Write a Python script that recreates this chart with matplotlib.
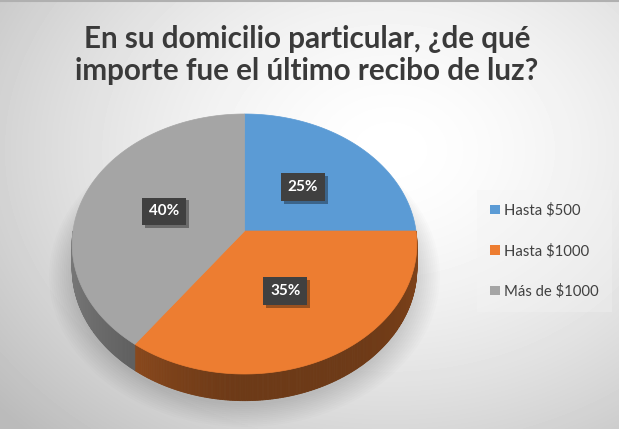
import numpy as np
import matplotlib.pyplot as plt
from matplotlib.patches import Polygon, Patch
import matplotlib.patheffects as pe
import matplotlib.colors as mcolors

labels = ['Hasta $500', 'Hasta $1000', 'Más de $1000']
shares = [25, 35, 40]
colors = ['#5B9BD5', '#ED7D31', '#A5A5A5']
title = 'En su domicilio particular, ¿de qué\nimporte fue el último recibo de luz?'

W, H = 619, 429
fig = plt.figure(figsize=(W / 100, H / 100), dpi=100)
ax = fig.add_axes([0, 0, 1, 1])
ax.set_xlim(0, W)
ax.set_ylim(H, 0)
ax.axis('off')

# soft radial background like the Excel chart area
yy, xx = np.mgrid[0:H, 0:W]
d = np.hypot((xx - 390) / 430, (yy - 150) / 330)
bg = 1 - 0.2 * np.clip(d, 0, 1.2) ** 1.6
ax.imshow(bg, cmap='gray', vmin=0, vmax=1, extent=(0, W, H, 0), zorder=0, aspect='auto')
ax.plot([0, W], [0.5, 0.5], color='#b0b0b0', lw=1.5, zorder=1)

# tilted pie with a little perspective
cx, cy, rx, ry, k, depth = 244.5, 231, 171.5, 128.7, 0.1, 24


def proj(r, th, dz=0.0):
    t = np.deg2rad(th)
    u = r * np.sin(t)
    v = -r * np.cos(t)
    f = 1 / (1 - k * v)
    return cx + rx * u * f, cy + ry * v * f + dz * f


# shadow under the pie
for i in range(12):
    s = 1.0 + 0.012 * i
    th = np.linspace(0, 360, 200)
    px, py = proj(s, th, depth + 4)
    ax.fill(px, py, color='k', alpha=0.012, lw=0, zorder=1)

total = sum(shares)
starts = np.cumsum([0] + shares[:-1]) / total * 360
ends = np.cumsum(shares) / total * 360

# sides first
for a0, a1, c in zip(starts, ends, colors):
    lo, hi = max(a0, 90), min(a1, 270)
    if hi <= lo:
        continue
    base = np.array(mcolors.to_rgb(c))
    th = np.linspace(lo, hi, int(hi - lo) * 2 + 2)
    for t0, t1 in zip(th[:-1], th[1:]):
        tm = np.deg2rad((t0 + t1) / 2)
        shade = 0.46 + 0.26 * max(0, -np.sin(tm)) ** 1.5 + 0.08 * max(0, np.sin(tm)) ** 6
        col = np.clip(base * shade, 0, 1)
        x0, y0 = proj(1, t0)
        x1, y1 = proj(1, t1)
        x2, y2 = proj(1, t1, depth)
        x3, y3 = proj(1, t0, depth)
        ax.add_patch(Polygon([[x0, y0], [x1, y1], [x2, y2], [x3, y3]],
                             closed=True, fc=col, ec=col, lw=0.6, zorder=2))

# top faces
for a0, a1, c in zip(starts, ends, colors):
    th = np.linspace(a0, a1, 200)
    px, py = proj(1, th)
    pts = np.column_stack([np.r_[cx, px], np.r_[cy, py]])
    ax.add_patch(Polygon(pts, closed=True, fc=c, ec=c, lw=0.5, zorder=3))

# percentage labels
for a0, a1, s in zip(starts, ends, shares):
    lx, ly = proj(0.5, (a0 + a1) / 2)
    t = ax.text(lx, ly, f'{s}%', ha='center', va='center', color='white',
                fontsize=11, fontweight='bold', family='Lato', zorder=5,
                bbox=dict(boxstyle='square,pad=0.45', fc='#404040', ec='none'))
    t.get_bbox_patch().set_path_effects([
        pe.withSimplePatchShadow(offset=(2, -2), shadow_rgbFace='k', alpha=0.35),
        pe.Normal()])

ax.text(307, 55, title, ha='center', va='center', fontsize=21.3, fontweight='bold',
        color='#3a3a3a', family='Lato', linespacing=1.18, zorder=5)

handles = [Patch(fc=c, ec='none', label=l) for c, l in zip(colors, labels)]
leg = ax.legend(handles=handles, loc='center left', bbox_to_anchor=(477 / W, 1 - 251 / H),
                labelspacing=1.75, handlelength=0.62, handleheight=0.62,
                handletextpad=0.33, borderpad=0.9, borderaxespad=0, frameon=True,
                fancybox=False, prop={'family': 'Lato', 'size': 10.7})
leg.get_frame().set_facecolor('#f4f4f4')
leg.get_frame().set_alpha(0.35)
leg.get_frame().set_edgecolor('none')
for txt in leg.get_texts():
    txt.set_color('#404040')

fig.savefig('out.png', dpi=100)
